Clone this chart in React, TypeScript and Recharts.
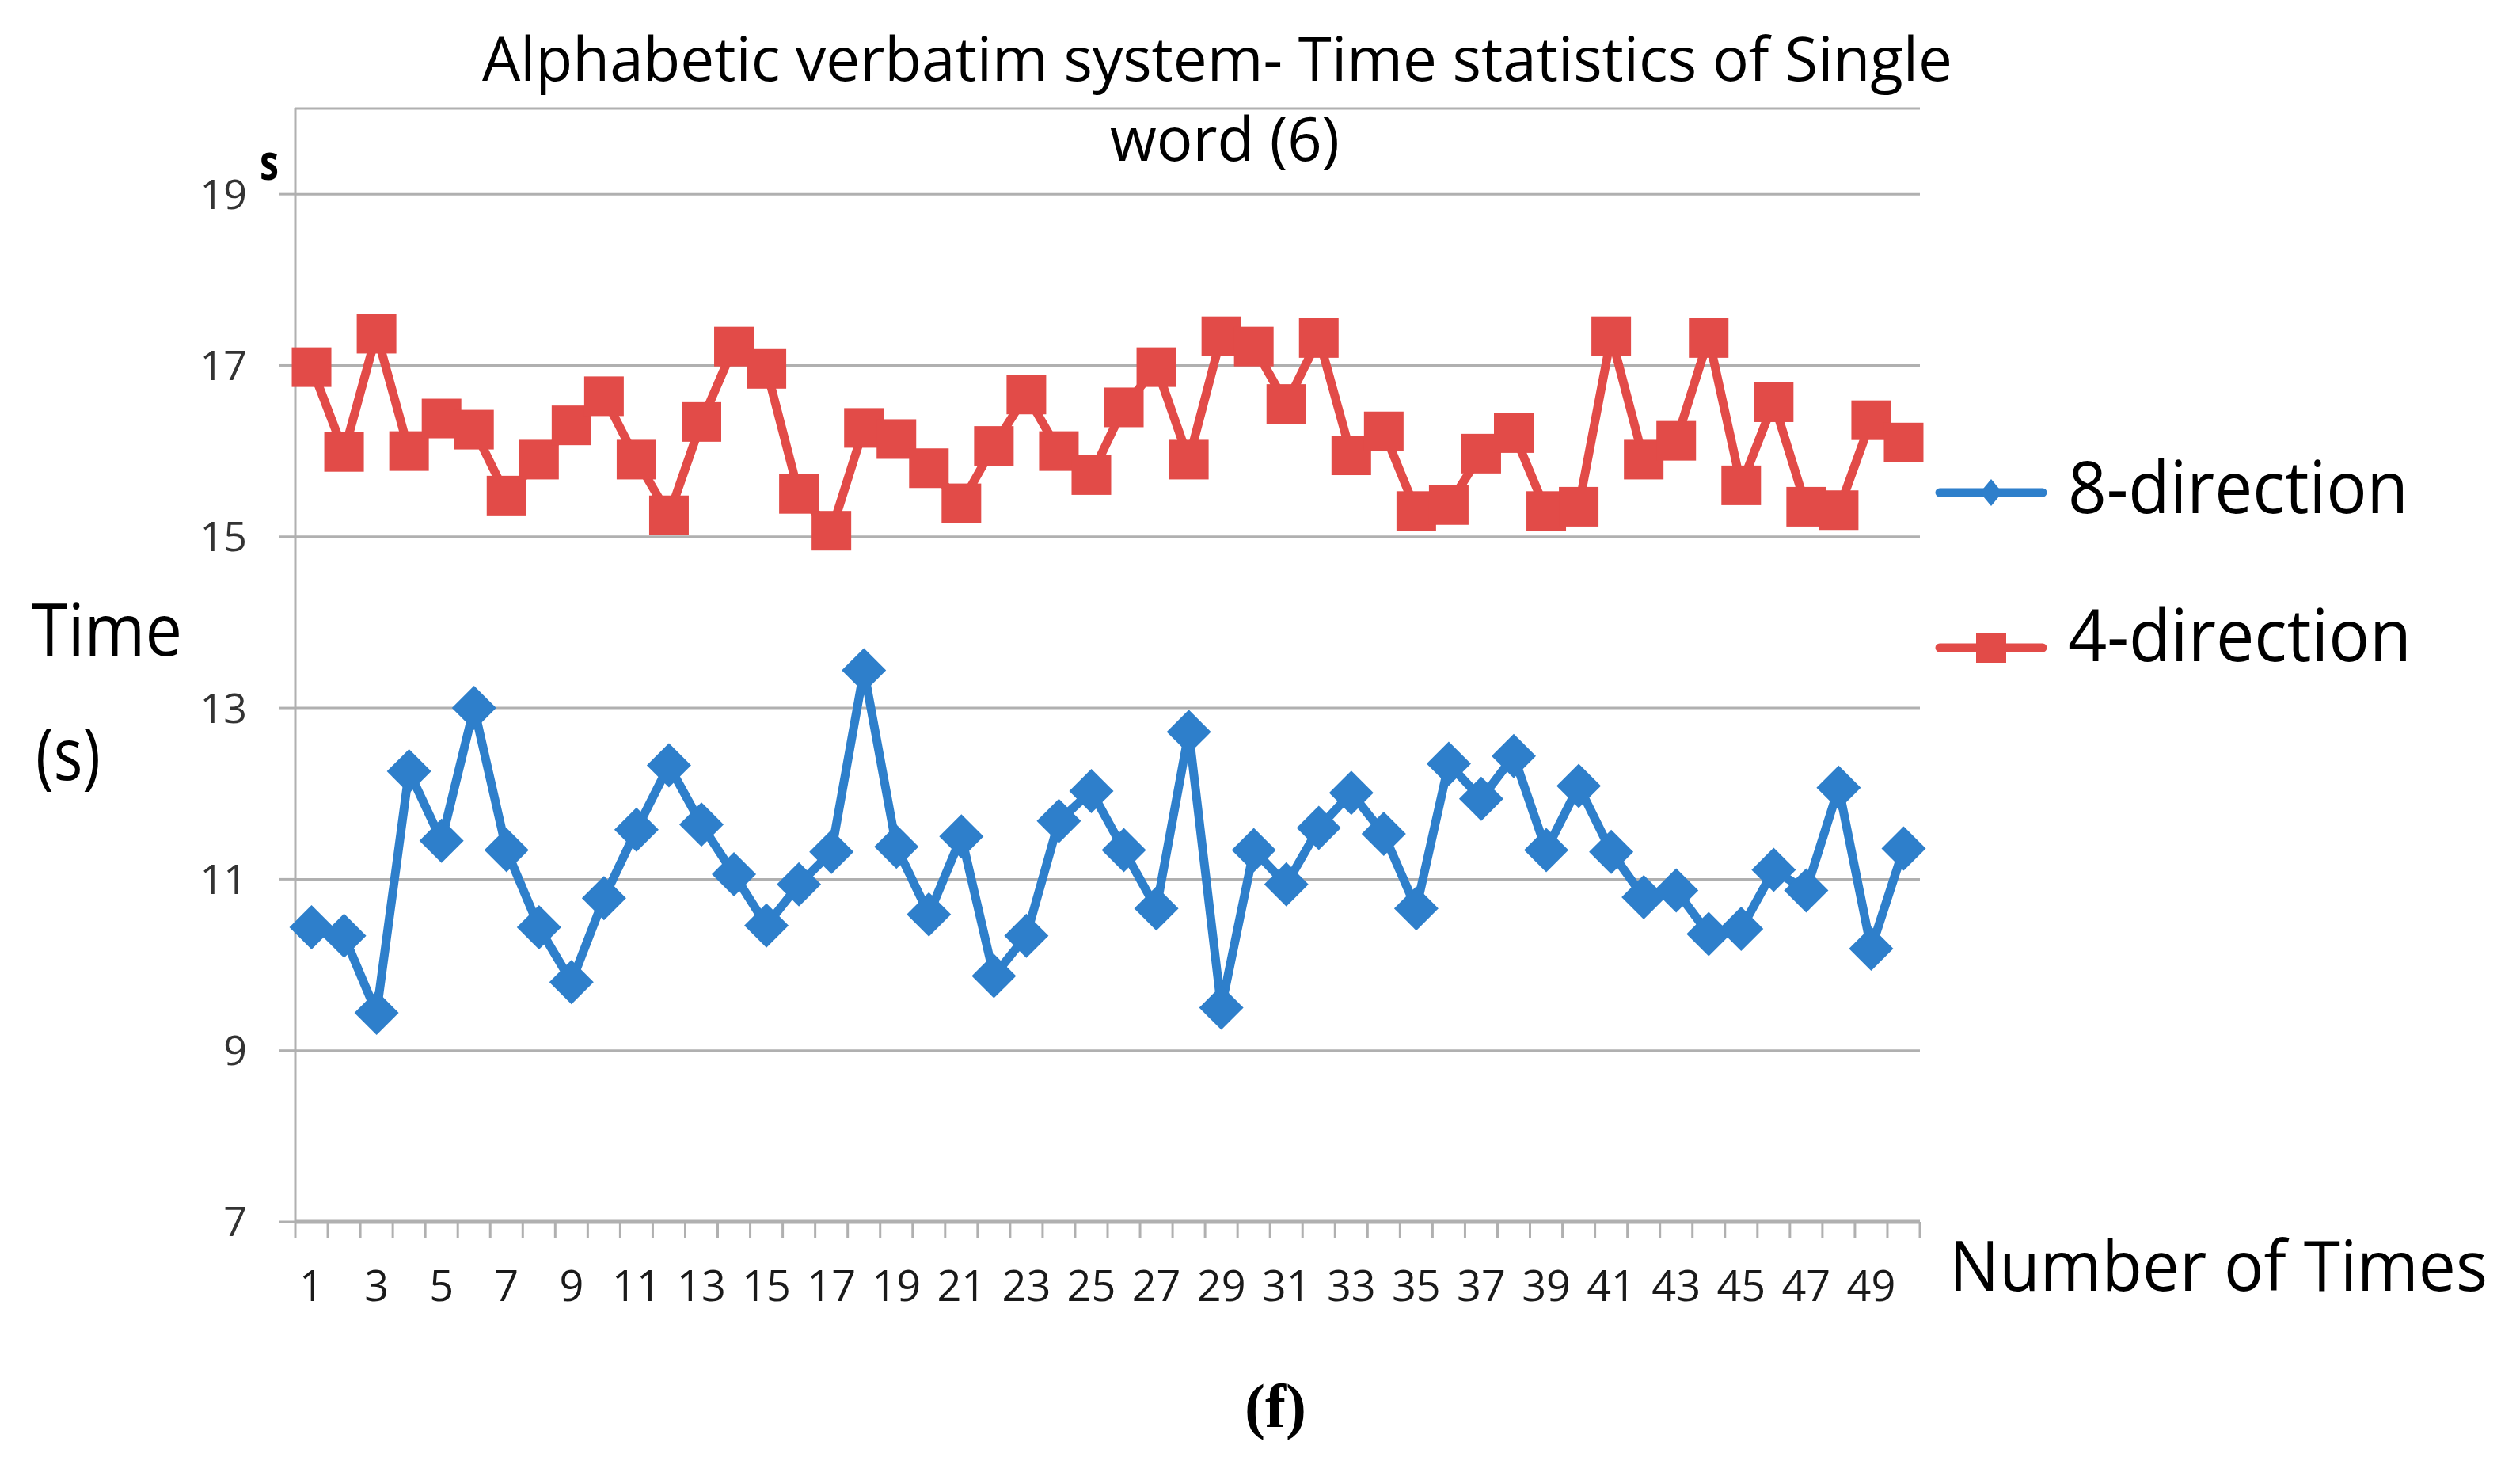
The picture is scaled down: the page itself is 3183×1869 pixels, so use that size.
import { LineChart, Line, XAxis, YAxis, CartesianGrid, Legend } from 'recharts'

// values
const times = [
  1, 2, 3, 4, 5, 6, 7, 8, 9, 10, 11, 12, 13, 14, 15, 16, 17, 18, 19, 20, 21, 22, 23, 24, 25,
  26, 27, 28, 29, 30, 31, 32, 33, 34, 35, 36, 37, 38, 39, 40, 41, 42, 43, 44, 45, 46, 47, 48, 49, 50,
]
const eightDirection = [
  10.44, 10.34, 9.44, 12.26, 11.45, 13.0, 11.34, 10.44, 9.8, 10.78,
  11.58, 12.33, 11.64, 11.06, 10.46, 10.94, 11.32, 13.44, 11.38, 10.59,
  11.5, 9.87, 10.34, 11.68, 12.03, 11.34, 10.66, 12.72, 9.5, 11.34,
  10.94, 11.6, 12.01, 11.53, 10.66, 12.35, 11.94, 12.44, 11.34, 12.09,
  11.32, 10.79, 10.87, 10.36, 10.42, 11.11, 10.87, 12.07, 10.19, 11.36,
]
const fourDirection = [
  16.98, 15.99, 17.37, 16.0, 16.38, 16.25, 15.48, 15.9, 16.3, 16.64,
  15.9, 15.25, 16.34, 17.22, 16.96, 15.5, 15.07, 16.27, 16.14, 15.8,
  15.39, 16.06, 16.66, 16.0, 15.72, 16.51, 16.98, 15.9, 17.34, 17.22,
  16.55, 17.32, 15.95, 16.23, 15.3, 15.37, 15.97, 16.21, 15.3, 15.35,
  17.34, 15.9, 16.12, 17.32, 15.6, 16.57, 15.35, 15.31, 16.36, 16.1,
]
const yTicks = [7, 9, 11, 13, 15, 17, 19]
const xLabels = [1, 3, 5, 7, 9, 11, 13, 15, 17, 19, 21, 23, 25, 27, 29, 31, 33, 35, 37, 39, 41, 43, 45, 47, 49]
const legendOrder = ['eight', 'four']

const data = times.map((t, i) => ({ time: t, eight: eightDirection[i], four: fourDirection[i] }))

const W = 3183
const H = 1869
const margin = { top: 137, right: 758, left: 0, bottom: 0 }
const Y_AXIS_W = 373
const X_AXIS_H = 326
const band = (W - Y_AXIS_W - margin.right) / times.length

const BLUE = '#2e7fcb'
const RED = '#e24b48'
const GRID = '#b0b0b0'
const FONT = '"Open Sans", sans-serif'

function XTick(props: any) {
  const { x, y, payload } = props
  const v = payload.value
  const half = band / 2
  return (
    <g>
      <line x1={x - half} x2={x - half} y1={y} y2={y + 21} stroke={GRID} strokeWidth={3} />
      {v === times[times.length - 1] && (
        <line x1={x + half} x2={x + half} y1={y} y2={y + 21} stroke={GRID} strokeWidth={3} />
      )}
      {xLabels.includes(v) && (
        <text x={x} y={y + 100} textAnchor="middle" fontSize={54} fontFamily={FONT} fill="#1a1a1a">
          {v}
        </text>
      )}
    </g>
  )
}

function SquareDot(props: any) {
  const { cx, cy } = props
  if (cx == null || cy == null) return null
  return <rect x={cx - 25} y={cy - 25} width={50} height={50} fill={RED} />
}

function DiamondDot(props: any) {
  const { cx, cy } = props
  if (cx == null || cy == null) return null
  const r = 28
  return <polygon points={`${cx},${cy - r} ${cx + r},${cy} ${cx},${cy + r} ${cx - r},${cy}`} fill={BLUE} />
}

function LegendBox(props: any) {
  const items = [...(props.payload || [])].sort(
    (a: any, b: any) => legendOrder.indexOf(a.dataKey) - legendOrder.indexOf(b.dataKey),
  )
  return (
    <svg width={740} height={340} style={{ display: 'block', overflow: 'visible' }}>
      {items.map((it: any, i: number) => {
        const cy = i === 0 ? 62 : 258
        const base = i === 0 ? 88 : 275
        const isBlue = it.dataKey === 'eight'
        return (
          <g key={it.value}>
            <line x1={10} x2={140} y1={cy} y2={cy} stroke={it.color} strokeWidth={11} strokeLinecap="round" />
            {isBlue ? (
              <polygon points={`75,${cy - 17} 89,${cy} 75,${cy + 17} 61,${cy}`} fill={it.color} />
            ) : (
              <rect x={56} y={cy - 19} width={38} height={38} fill={it.color} />
            )}
            <text
              x={172}
              y={base}
              fontSize={92}
              fontFamily={FONT}
              fill="#000"
              textLength={isBlue ? 430 : 434}
              lengthAdjust="spacingAndGlyphs"
            >
              {it.value}
            </text>
          </g>
        )
      })}
    </svg>
  )
}

function Txt({ x, y, len, size, children, family = FONT, weight = 400 }: any) {
  return (
    <text
      x={x}
      y={y}
      fontSize={size}
      fontFamily={family}
      fontWeight={weight}
      fill="#000"
      textLength={len}
      lengthAdjust="spacingAndGlyphs"
    >
      {children}
    </text>
  )
}

export default function App() {
  return (
    <div style={{ position: 'absolute', left: 0, top: 0, width: W, height: H, background: '#fff' }}>
      <LineChart width={W} height={H} data={data} margin={margin}>
        <CartesianGrid vertical={false} stroke={GRID} strokeWidth={3} />
        <XAxis
          dataKey="time"
          type="number"
          domain={[0.5, 50.5]}
          ticks={times}
          interval={0}
          tickLine={false}
          tickSize={0}
          tickMargin={0}
          height={X_AXIS_H}
          axisLine={{ stroke: GRID, strokeWidth: 5 }}
          tick={<XTick />}
        />
        <YAxis
          domain={[7, 20]}
          ticks={yTicks}
          interval={0}
          width={Y_AXIS_W}
          tickSize={21}
          tickMargin={40}
          tickLine={{ stroke: GRID, strokeWidth: 3 }}
          axisLine={{ stroke: GRID, strokeWidth: 3 }}
          tick={{ fontSize: 52, fontFamily: FONT, fill: '#333' }}
        />
        <Legend
          layout="vertical"
          align="center"
          verticalAlign="middle"
          wrapperStyle={{ left: 2440, top: 560, width: 740 }}
          content={<LegendBox />}
        />
        <Line
          dataKey="eight"
          name="8-direction"
          stroke={BLUE}
          strokeWidth={11}
          dot={<DiamondDot />}
          activeDot={false}
          isAnimationActive={false}
        />
        <Line
          dataKey="four"
          name="4-direction"
          stroke={RED}
          strokeWidth={11}
          dot={<SquareDot />}
          activeDot={false}
          isAnimationActive={false}
        />
      </LineChart>
      <svg
        width={W}
        height={H}
        style={{ position: 'absolute', left: 0, top: 0, pointerEvents: 'none' }}
      >
        <Txt x={609} y={102} len={1857} size={77}>
          Alphabetic verbatim system- Time statistics of Single
        </Txt>
        <Txt x={1402} y={203} len={290} size={77}>
          word (6)
        </Txt>
        <Txt x={328} y={227} len={24} size={62} weight={700}>
          s
        </Txt>
        <Txt x={40} y={828} len={190} size={91}>
          Time
        </Txt>
        <Txt x={45} y={985} len={82} size={91}>
          (s)
        </Txt>
        <Txt x={2462} y={1630} len={680} size={88}>
          Number of Times
        </Txt>
        <Txt x={1572} y={1802} len={78} size={78} family='"Liberation Serif", serif' weight={700}>
          (f)
        </Txt>
      </svg>
    </div>
  )
}
